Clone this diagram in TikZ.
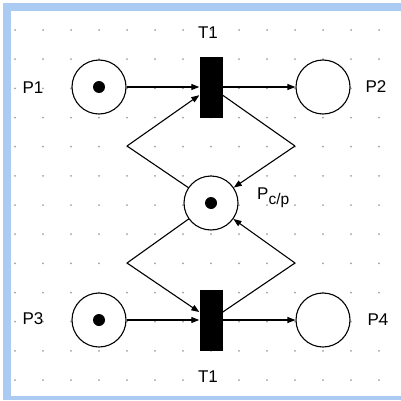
\documentclass[tikz,border=0pt]{standalone}
\usepackage{fontspec}
\setmainfont{Liberation Sans}
\usepackage{xcolor}
\definecolor{frameblue}{HTML}{ABCBF3}
\definecolor{griddot}{HTML}{A0A0A0}
\usepackage{tikz}
\usetikzlibrary{arrows.meta, positioning}
\tikzset{
  place/.style ={circle, draw=black, line width=1.1pt, fill=white, minimum size=54pt, inner sep=0pt},
  trans/.style ={rectangle, fill=black, minimum width=23pt, minimum height=61pt, inner sep=0pt},
  token/.style ={circle, fill=black, minimum size=12pt, inner sep=0pt},
  plbl/.style  ={font=\fontsize{17}{17}\selectfont, inner sep=0pt},
  parc/.style  ={-{Triangle[length=8pt, width=6pt]}, line width=1.1pt, color=black},
  pline/.style ={line width=1.1pt, color=black},
}

\begin{document}
\begin{tikzpicture}[x=1pt, y=1pt]
  \useasboundingbox (0,0) rectangle (401,400);
  % frame
  \fill[frameblue] (3,0) rectangle (11,397);
  \fill[frameblue] (3,389) rectangle (401,397);
  \fill[frameblue] (3,0) rectangle (401,4);
  % grid dots
  \foreach \i in {0,...,13} {
    \foreach \j in {0,...,12} {
      \fill[griddot] (15+28*\i, 370-29.17*\j) circle (1pt);
    }
  }
  % places and transitions
  \node[place] (p1) at (99,313) {};
  \node[place] (p2) at (323,313) {};
  \node[place] (pcp) at (211,197) {};
  \node[place] (p3) at (99,80) {};
  \node[place] (p4) at (323,80) {};
  \node[trans] (t1a) at (211,313) {};
  \node[trans] (t1b) at (211,80) {};
  \foreach \n in {p1,pcp,p3}
    \node[token] at (\n) {};
  \coordinate (cl) at (127,254);
  \coordinate (cr) at (295,254);
  \coordinate (cl2) at (127,137);
  \coordinate (cr2) at (295,137);
  % labels
  \node[plbl] (lp1) at (33,312) {P1};
  \node[plbl] (lp2) at (376,313) {P2};
  \node[plbl] (lp3) at (33,81) {P3};
  \node[plbl] (lp4) at (378,80) {P4};
  \node[plbl] (lt1a) at (208,367) {T1};
  \node[plbl] (lt1b) at (208,23) {T1};
  \node[plbl, anchor=west] (lpcp) at (257,202) {P\raisebox{-5pt}{\fontsize{15.5}{15.5}\selectfont c/p}};
  % arcs
  \draw[parc] (p1) -- (t1a);
  \draw[parc] (t1a) -- (p2);
  \draw[parc] (p3) -- (t1b);
  \draw[parc] (t1b) -- (p4);
  \draw[pline] (pcp) -- (cl);
  \draw[parc] (cl) -- (t1a);
  \draw[pline] (t1a) -- (cr);
  \draw[parc] (cr) -- (pcp);
  \draw[pline] (pcp) -- (cl2);
  \draw[parc] (cl2) -- (t1b);
  \draw[pline] (t1b) -- (cr2);
  \draw[parc] (cr2) -- (pcp);
\end{tikzpicture}
\end{document}
